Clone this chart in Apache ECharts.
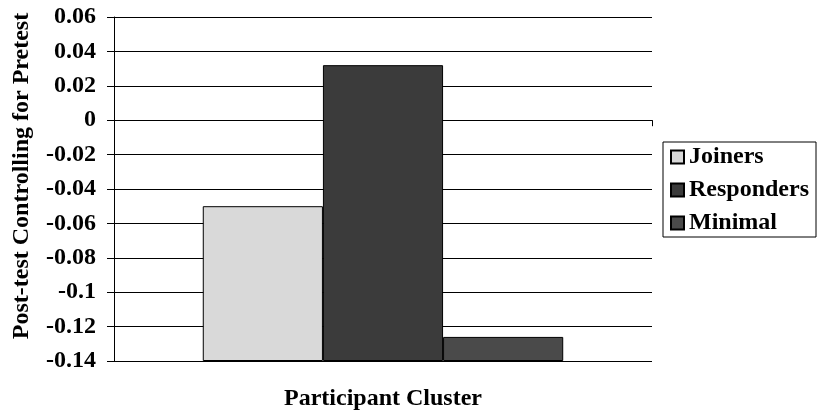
<!DOCTYPE html>
<html>
<head>
<meta charset="utf-8">
<script src="https://cdn.jsdelivr.net/npm/echarts@6/dist/echarts.min.js"></script>
<style>
  html, body { margin: 0; padding: 0; background: #fff; }
  #chart { width: 822px; height: 412px; }
</style>
</head>
<body>
<div id="chart"></div>
<script>
// Cluster categories and their adjusted post-test means
const categories = ['Participant Cluster'];
const seriesNames = ['Joiners', 'Responders', 'Minimal'];
const joiners = [-0.05];
const responders = [0.032];
const minimal = [-0.126];
const seriesColors = ['#d9d9d9', '#3b3b3b', '#4a4a4a'];

const yMin = -0.14, yMax = 0.06, yStep = 0.02;
const FONT = '"Liberation Serif", "Times New Roman", serif';

const values = [joiners, responders, minimal];

const chart = echarts.init(document.getElementById('chart'), null, { renderer: 'canvas' });
chart.setOption({
  animation: false,
  backgroundColor: '#ffffff',
  grid: { left: 114, right: 170, top: 17, bottom: 51, containLabel: false, outerBoundsMode: 'none' },
  legend: {
    orient: 'vertical',
    left: 663,
    top: 142,
    data: seriesNames,
    itemWidth: 13,
    itemHeight: 13,
    itemGap: 9,
    icon: 'rect',
    padding: [3, 7, 2, 7],
    borderColor: '#000',
    borderWidth: 1,
    backgroundColor: '#fff',
    textStyle: { fontFamily: FONT, fontWeight: 'bold', fontSize: 24, color: '#000', lineHeight: 24 }
  },
  xAxis: {
    type: 'category',
    data: categories,
    name: 'Participant Cluster',
    nameLocation: 'middle',
    nameGap: 26,
    nameTextStyle: { fontFamily: FONT, fontWeight: 'bold', fontSize: 24, color: '#000' },
    axisLine: { show: true, lineStyle: { color: '#000', width: 1 } },
    axisTick: { show: true, length: 6, lineStyle: { color: '#000' } },
    axisLabel: { show: false },
    splitLine: { show: false }
  },
  yAxis: {
    type: 'value',
    min: yMin,
    max: yMax,
    interval: yStep,
    startValue: yMin,
    name: 'Post-test Controlling for Pretest',
    nameLocation: 'middle',
    nameGap: 80,
    nameTextStyle: { fontFamily: FONT, fontWeight: 'bold', fontSize: 24, color: '#000', padding: [0, 0, 0, 26] },
    axisLine: { show: true, lineStyle: { color: '#000', width: 1 } },
    axisTick: { show: true, length: 7, lineStyle: { color: '#000' } },
    axisLabel: {
      margin: 18,
      fontFamily: FONT, fontWeight: 'bold', fontSize: 24, color: '#000',
      formatter: function (v) {
        const r = Math.round(v * 100) / 100;
        return String(r);
      }
    },
    splitLine: { show: true, lineStyle: { color: '#000', width: 1 } }
  },
  series: seriesNames.map(function (name, i) {
    return {
      name: name,
      type: 'bar',
      data: values[i],
      barGap: '0%',
      barCategoryGap: '33%',
      itemStyle: { color: seriesColors[i], borderColor: '#000', borderWidth: 1 }
    };
  })
});
</script>
</body>
</html>
